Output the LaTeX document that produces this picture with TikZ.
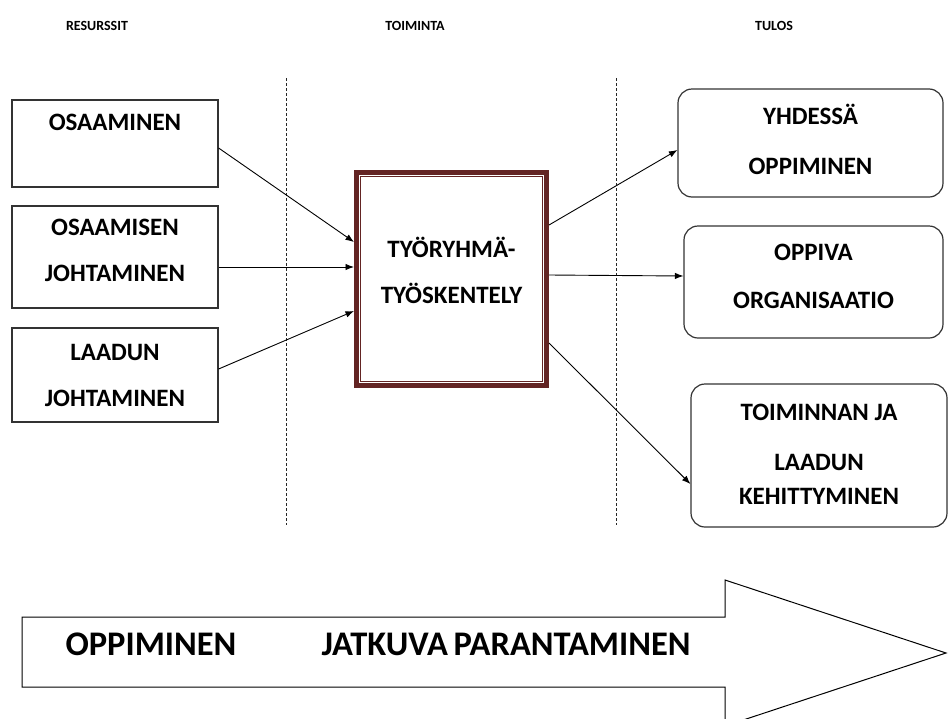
\documentclass[tikz,border=0pt]{standalone}
\usepackage{fontspec}
\setmainfont{Carlito}
\usetikzlibrary{arrows.meta}
\definecolor{darkred}{HTML}{632423}
\newcommand\xdp[1]{\raisebox{0pt}[0pt][#1pt]{}}
\begin{document}
\begin{tikzpicture}[x=1pt,y=-1pt,
 resbox/.style={draw=black!80, line width=1.2pt, minimum width=206pt, align=center, font=\fontsize{25}{46}\selectfont\bfseries, inner sep=0pt},
 outbox/.style={draw=black!80, line width=1.2pt, rounded corners=14pt, align=center, font=\fontsize{25}{48}\selectfont\bfseries, inner sep=0pt},
 conn/.style={line width=0.9pt, -{Latex[length=8.5pt,width=6.5pt]}},
 head/.style={font=\fontsize{14}{16}\selectfont\bfseries, anchor=base},
 sep/.style={dash pattern=on 3pt off 2pt, line width=0.9pt, black!85},
 bigtext/.style={font=\fontsize{34.5}{40}\selectfont\bfseries, anchor=base west},
]
\useasboundingbox[fill=white] (0,0) rectangle (948,718);

% headers
\node[head] (h1) at (97,30) {RESURSSIT};
\node[head] (h2) at (415,30) {TOIMINTA};
\node[head] (h3) at (774,30) {TULOS};

% separators
\draw[sep] (286,78) -- (286,525);
\draw[sep] (616,78) -- (616,525);

% resources
\node[resbox, minimum height=87pt] (r1) at (115,143.5) {OSAAMINEN\xdp{42}};
\node[resbox, minimum height=102pt] (r2) at (115,257) {OSAAMISEN\\JOHTAMINEN\xdp{14}};
\node[resbox, minimum height=94pt] (r3) at (115,375) {LAADUN\\JOHTAMINEN};

% central
\node[draw=darkred, line width=5pt, minimum width=190pt, minimum height=213pt, align=center, font=\fontsize{25}{46}\selectfont\bfseries] (tw) at (451.5,279) {TYÖRYHMÄ-\\TYÖSKENTELY\xdp{17}};
\draw[darkred, line width=0.8pt] ([shift={(6.5,6.5)}]tw.north west) rectangle ([shift={(-6.5,-6.5)}]tw.south east);

% results
\node[outbox, minimum width=265pt, minimum height=108pt] (o1) at (810.5,143) {YHDESSÄ\\[2pt]OPPIMINEN\xdp{7}};
\node[outbox, minimum width=259pt, minimum height=112pt] (o2) at (813.5,282) {OPPIVA\\ORGANISAATIO\xdp{12}};
\node[outbox, minimum width=256pt, minimum height=143pt] (o3) at (819,455.5) {TOIMINNAN JA\\[2pt]LAADUN\\[-14pt]KEHITTYMINEN\xdp{3}};

% connectors
\draw[conn] ([yshift=-4.5pt]r1.east) -- ([yshift=37pt]tw.west);
\draw[conn] ([yshift=-10pt]r2.east) -- ([yshift=12pt]tw.west);
\draw[conn] ([yshift=6pt]r3.east) -- ([yshift=-32pt]tw.west);
\draw[conn] ([yshift=54pt]tw.east) -- ([yshift=-7pt]o1.west);
\draw[conn] ([yshift=4pt]tw.east) -- ([yshift=6pt]o2.west);
\draw[conn] ([yshift=-64pt]tw.east) -- ([yshift=-28.5pt]o3.west);

% big arrow
\draw[line width=1pt, fill=white] (22,617) -- (725,617) -- (725,580) -- (946,653) -- (725,726) -- (725,687) -- (22,687) -- cycle;
\node[bigtext] (b1) at (62,655) {OPPIMINEN};
\node[bigtext] (b2) at (318,655) {JATKUVA\hspace{-2pt} PARANTAMINEN};
\end{tikzpicture}
\end{document}
